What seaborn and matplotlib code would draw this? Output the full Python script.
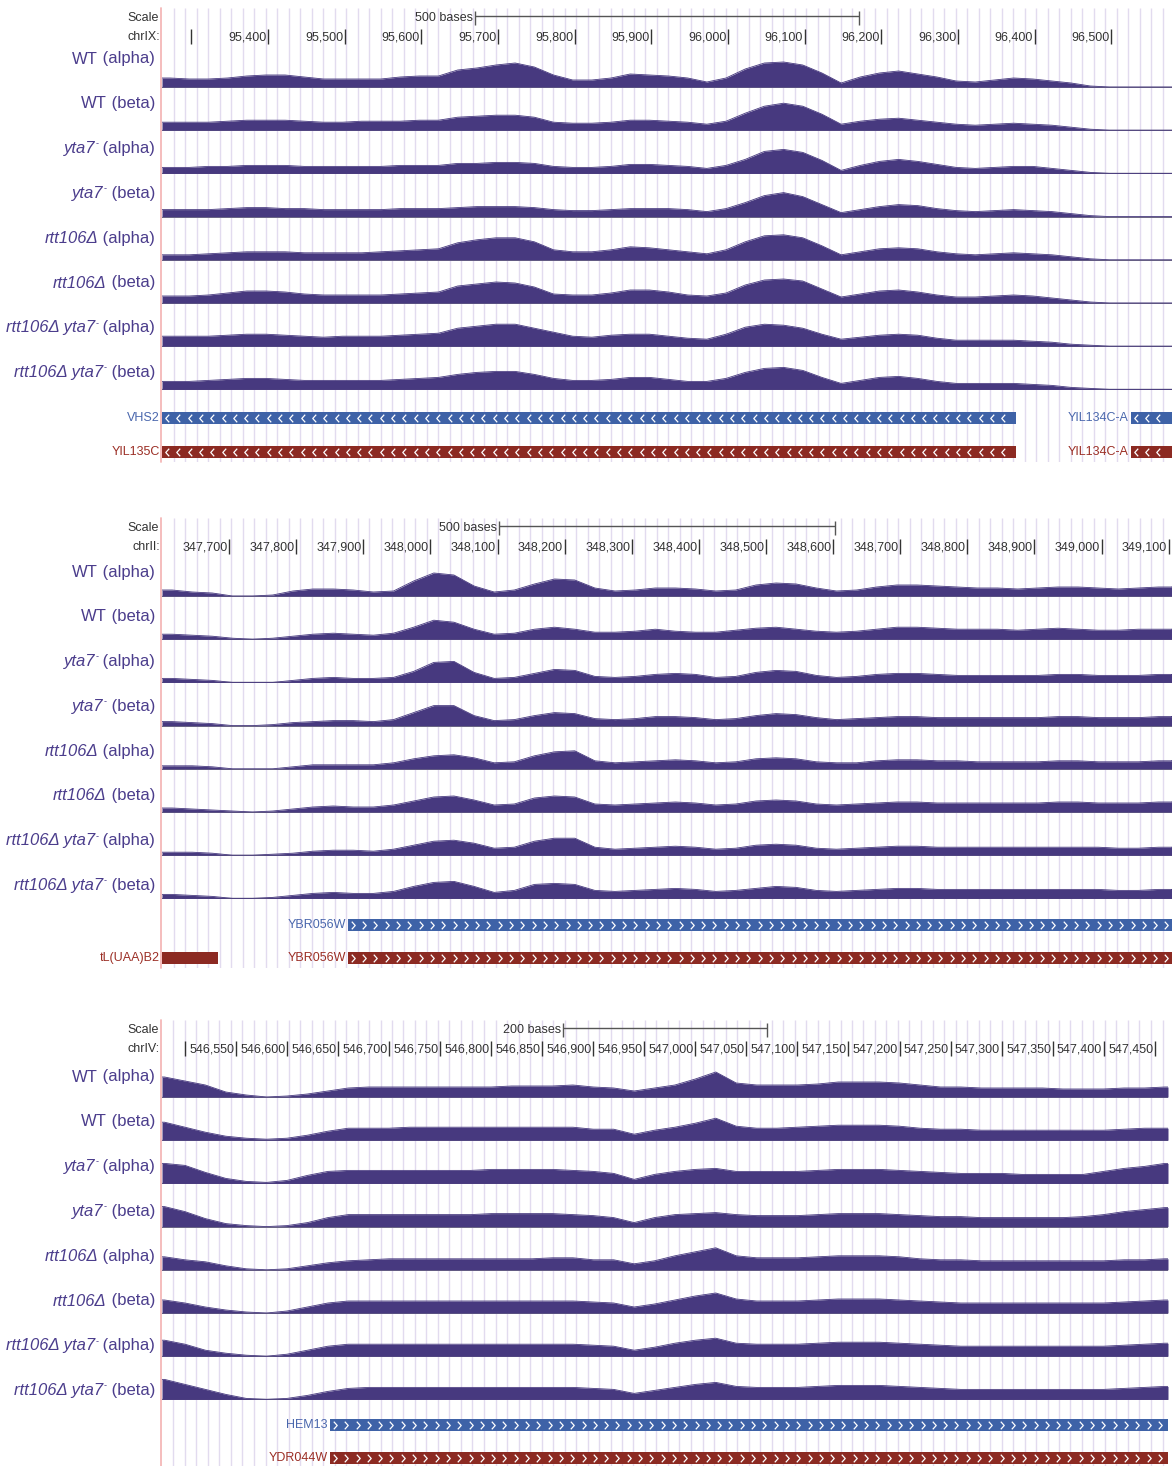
import numpy as np
import pandas as pd
import matplotlib
matplotlib.use("Agg")
import matplotlib.pyplot as plt
from matplotlib.path import Path
from matplotlib.lines import Line2D
import seaborn as sns

sns.set_theme(style="white")
plt.rcParams["font.family"] = ["Liberation Sans", "DejaVu Sans"]

# ---------------------------------------------------------------- data
# track names as (text, style) pieces: "n" upright, "it" italic, "sup" superscript
track_labels = [
    [("WT", "n"), (" (alpha)", "n")],
    [("WT", "n"), (" (beta)", "n")],
    [("yta7", "it"), ("-", "sup"), (" (alpha)", "n")],
    [("yta7", "it"), ("-", "sup"), (" (beta)", "n")],
    [("rtt106\u0394", "it"), (" (alpha)", "n")],
    [("rtt106\u0394", "it"), (" (beta)", "n")],
    [("rtt106\u0394 yta7", "it"), ("-", "sup"), (" (alpha)", "n")],
    [("rtt106\u0394 yta7", "it"), ("-", "sup"), (" (beta)", "n")],
]

# chrIX window, coverage sampled every 25 bp from 95,260
chrIX_view = (95262, 96579)
chrIX_bin_start, chrIX_bin = 95260, 25
chrIX_ticks = list(range(95300, 96501, 100))
chrIX_tick_labels = [""] + [f"{t:,}" for t in chrIX_ticks[1:]]
chrIX_cov = [
    [9,8,8,9,11,12,12,10,8,8,8,8,10,11,11,17,19,22,24,20,12,7,7,9,13,12,11,9,5,9,18,24,25,22,14,4,10,14,16,13,10,6,5,7,9,8,6,4,1,0,0,0,0],
    [8,8,8,9,10,10,10,9,8,8,9,9,9,10,10,13,14,15,15,13,8,7,7,8,10,10,9,8,6,9,17,24,27,24,16,6,9,11,12,10,8,6,5,6,7,6,5,3,1,0,0,0,0],
    [6,6,7,7,8,8,8,7,7,7,7,7,8,8,8,10,10,11,11,10,7,6,6,7,9,9,8,7,5,8,14,22,24,21,13,3,8,12,14,12,9,6,5,6,7,7,5,3,1,0,0,0,0],
    [7,7,7,8,9,9,8,8,7,7,7,7,8,8,8,9,10,10,10,9,7,6,6,7,8,8,8,7,5,8,14,21,24,20,12,4,7,10,12,11,8,6,5,6,7,6,5,3,1,0,0,0,0],
    [5,5,6,7,8,8,8,7,7,7,7,8,9,10,11,17,20,22,22,18,10,8,8,10,13,12,10,8,6,10,18,24,25,22,14,5,8,11,12,11,8,6,5,6,7,6,5,3,1,0,0,0,0],
    [7,7,8,10,12,12,11,9,8,8,8,8,9,10,11,17,19,21,20,16,9,8,8,10,13,13,11,8,7,10,18,23,24,22,14,6,9,12,13,11,8,6,6,7,8,7,5,3,1,0,0,0,0],
    [10,10,10,11,12,12,11,10,9,10,10,10,11,12,13,18,20,22,22,18,14,10,9,11,12,12,10,8,7,12,19,22,21,18,12,7,9,11,12,11,8,6,6,6,6,5,4,2,1,0,0,0,0],
    [8,8,9,10,11,11,10,9,9,9,9,9,10,11,12,15,17,18,18,15,11,9,9,10,12,12,10,8,8,11,17,21,22,19,12,6,9,12,13,11,8,6,6,6,6,5,4,2,1,0,0,0,0],
]
chrIX_genes_blue = [("VHS2", 95100, 96376, True), ("YIL134C-A", 96525, 96700, True)]
chrIX_genes_red = [("YIL135C", 95100, 96376, True), ("YIL134C-A", 96525, 96700, True)]

# chrII window, coverage sampled every 30 bp from 347,600
chrII_view = (347600, 349105)
chrII_bin_start, chrII_bin = 347600, 30
chrII_ticks = list(range(347700, 349101, 100))
chrII_tick_labels = [f"{t:,}" for t in chrII_ticks]
chrII_cov = [
    [6,4,3,0,0,1,5,7,7,6,4,5,15,23,21,10,4,6,12,17,16,8,5,6,8,8,7,5,6,11,13,12,8,5,6,9,11,11,10,9,8,8,7,8,9,9,8,7,8,9,9],
    [5,4,3,1,0,1,3,5,6,5,4,6,12,19,17,10,5,6,10,12,10,7,7,8,10,8,7,7,9,11,12,10,8,7,8,10,12,12,11,10,10,10,9,10,11,10,9,9,10,10,10],
    [4,3,2,0,0,0,2,4,5,4,4,5,11,20,21,10,4,5,9,13,12,6,5,6,8,9,8,5,6,10,12,11,7,5,6,8,9,9,8,7,7,7,7,7,8,8,7,7,7,8,8],
    [4,3,2,0,0,1,3,4,5,5,4,6,13,20,20,10,5,6,10,13,12,7,6,7,9,9,8,6,7,10,12,11,8,6,7,8,9,9,8,8,8,8,8,8,9,9,8,8,8,9,9],
    [3,3,2,0,0,0,2,4,4,4,4,6,10,13,14,11,6,7,13,17,18,8,6,7,8,9,8,6,7,10,11,10,7,6,6,8,9,9,8,8,7,7,7,7,8,8,7,7,7,8,8],
    [4,3,2,1,0,1,3,5,6,5,5,7,11,15,16,12,7,8,14,16,15,8,7,8,9,10,9,7,8,11,12,11,8,7,8,9,10,10,9,9,9,9,9,9,10,10,9,9,9,10,10],
    [3,3,2,0,0,1,2,4,5,5,4,6,10,14,15,12,7,8,14,17,17,8,6,7,8,9,8,6,7,10,11,10,7,6,7,8,9,9,8,8,8,8,8,8,8,8,8,7,7,8,8],
    [4,3,2,0,0,1,3,5,6,5,5,7,12,16,17,12,6,8,14,15,14,8,7,8,9,10,9,7,8,10,12,11,8,7,8,9,10,10,9,9,9,9,9,9,9,9,9,8,8,9,9],
]
chrII_genes_blue = [("YBR056W", 347877, 349500, True)]
chrII_genes_red = [("tL(UAA)B2", 347500, 347683, False), ("YBR056W", 347877, 349500, True)]

# chrIV window, coverage sampled every 20 bp from 546,470
chrIV_view = (546477.5, 547463)
chrIV_bin_start, chrIV_bin = 546470, 20
chrIV_ticks = list(range(546500, 547451, 50))
chrIV_tick_labels = [""] + [f"{t:,}" for t in chrIV_ticks[1:]]
chrIV_cov = [
    [20,16,12,5,2,0,1,3,6,9,10,10,10,10,10,10,10,11,11,11,12,10,9,6,9,12,18,25,14,12,12,12,13,15,15,15,14,12,10,10,9,9,9,9,8,8,8,9,9,10],
    [18,13,8,4,2,1,2,5,9,12,12,12,13,13,13,13,13,13,13,13,13,11,11,6,10,13,17,22,14,12,12,13,14,15,15,15,14,12,11,11,10,10,10,10,10,10,10,11,12,12],
    [20,18,11,5,2,1,3,8,12,13,13,13,13,13,13,13,14,14,14,14,13,12,10,4,9,12,14,15,12,12,12,12,13,14,14,14,13,12,11,10,10,10,9,9,9,9,12,15,17,20],
    [20,15,8,3,1,0,1,4,9,12,12,12,12,12,12,12,13,13,13,13,12,11,9,4,9,12,13,14,12,11,11,11,12,13,13,13,12,11,10,10,9,9,9,9,9,10,12,15,17,19],
    [13,10,8,4,1,0,1,4,7,9,10,11,11,11,11,11,11,11,11,12,12,10,10,6,9,14,18,22,14,12,12,12,13,14,14,14,13,11,10,10,9,9,9,9,9,9,9,10,10,11],
    [13,10,6,3,1,0,2,6,10,12,12,12,12,12,12,12,12,12,12,12,12,11,10,6,9,13,17,20,14,12,12,12,13,14,14,14,13,12,11,10,10,10,10,10,10,10,10,11,12,13],
    [16,12,6,3,1,0,2,6,10,12,12,12,12,12,12,12,12,12,12,12,12,11,10,6,9,13,16,18,13,12,12,12,13,14,14,14,13,12,11,10,10,10,10,10,10,10,10,11,12,13],
    [20,15,10,5,1,0,1,4,8,11,12,12,12,12,12,12,12,12,12,12,12,11,10,6,9,12,15,17,13,12,12,12,13,14,14,14,13,12,11,10,10,10,10,10,10,10,10,11,12,13],
]
chrIV_genes_blue = [("HEM13", 546642, 547600, True)]
chrIV_genes_red = [("YDR044W", 546642, 547600, True)]

# ---------------------------------------------------------------- style
SIGNAL = "#47397f"
LABEL = "#4b3d8c"
GENE_BLUE, GENE_BLUE_TXT = "#3e62a7", "#4a67ad"
GENE_RED, GENE_RED_TXT = "#8c2a22", "#9b2e25"
GRID = "#e2dbef"
EDGE = "#f4b8b8"
INK = "#333333"

W, H = 1172, 1466
fig = plt.figure(figsize=(W / 100, H / 100), dpi=100)
fig.patch.set_facecolor("white")
renderer = fig.canvas.get_renderer()
LEFT = 162


def box(x0, y0, x1, y1):
    ax = fig.add_axes([x0 / W, 1 - y1 / H, (x1 - x0) / W, (y1 - y0) / H])
    ax.set_axis_off()
    ax.patch.set_alpha(0)
    return ax


def rich_label(x_px, y_px, pieces, color, size=12):
    """Right-aligned label built from upright / italic / superscript pieces."""
    x = x_px
    base = y_px + 5.5
    for txt, kind in reversed(pieces):
        if kind == "sup":
            t = fig.text(x / W, 1 - (base - 6.5) / H, txt, ha="right", va="baseline",
                         fontsize=size * 0.55, color=color)
        else:
            t = fig.text(x / W, 1 - base / H, txt, ha="right", va="baseline", fontsize=size,
                         color=color, style="italic" if kind == "it" else "normal")
        x -= t.get_window_extent(renderer).width


panels = [
    dict(chrom="chrIX:", view=chrIX_view, b0=chrIX_bin_start, bw=chrIX_bin, cov=chrIX_cov,
         ticks=chrIX_ticks, tlabels=chrIX_tick_labels, scale=500, strand="-",
         blue=chrIX_genes_blue, red=chrIX_genes_red,
         top=8, bottom=462, right=1172, lab0=58, base0=87, gene_y=(418, 452)),
    dict(chrom="chrII:", view=chrII_view, b0=chrII_bin_start, bw=chrII_bin, cov=chrII_cov,
         ticks=chrII_ticks, tlabels=chrII_tick_labels, scale=500, strand="+",
         blue=chrII_genes_blue, red=chrII_genes_red,
         top=518, bottom=968, right=1172, lab0=571, base0=596, gene_y=(925, 958)),
    dict(chrom="chrIV:", view=chrIV_view, b0=chrIV_bin_start, bw=chrIV_bin, cov=chrIV_cov,
         ticks=chrIV_ticks, tlabels=chrIV_tick_labels, scale=200, strand="+",
         blue=chrIV_genes_blue, red=chrIV_genes_red,
         top=1020, bottom=1466, right=1168, lab0=1076, base0=1097, gene_y=(1425, 1458)),
]

LAB_STEP, BASE_STEP = 44.8, 43.2
chev_left = Path([(0.45, 1), (-0.45, 0), (0.45, -1)], [Path.MOVETO, Path.LINETO, Path.LINETO])
chev_right = Path([(-0.45, 1), (0.45, 0), (-0.45, -1)], [Path.MOVETO, Path.LINETO, Path.LINETO])

for p in panels:
    x0, x1 = p["view"]
    right = p["right"]
    ppb = (right - LEFT) / (x1 - x0)  # pixels per base
    top, bottom = p["top"], p["bottom"]

    # guide lines behind everything
    bg = box(LEFT, top, right, bottom)
    bg.set_xlim(x0, x1)
    bg.set_ylim(0, 1)
    guide_px = np.arange(LEFT + 11.5, right, 11.5)
    bg.vlines(x0 + (guide_px - LEFT) / ppb, 0, 1, color=GRID, lw=1.0)
    fig.add_artist(Line2D([161 / W, 161 / W], [1 - top / H, 1 - bottom / H],
                          color=EDGE, lw=1.3))

    # ruler
    hdr = box(LEFT, top, right, top + 40)
    hdr.set_xlim(x0, x1)
    hdr.set_ylim(top + 40, top)
    hdr.vlines(p["ticks"], top + 21, top + 36, color=INK, lw=1.0)
    for t, lab in zip(p["ticks"], p["tlabels"]):
        if lab:
            hdr.text(t - 1.5 / ppb, top + 29, lab, ha="right", va="center",
                     fontsize=9, color=INK)
    c = (x0 + x1) / 2
    s0, s1 = c - p["scale"] / 2, c + p["scale"] / 2
    hdr.hlines(top + 8, s0, s1, color="#555555", lw=1.0)
    hdr.vlines([s0, s1], top + 3, top + 17, color="#555555", lw=1.0)
    hdr.text(s0 - 2 / ppb, top + 10, f"{p['scale']} bases", ha="right", va="center",
             fontsize=9, color=INK)
    fig.text(159 / W, 1 - (top + 10) / H, "Scale", ha="right", va="center", fontsize=9, color=INK)
    fig.text(160 / W, 1 - (top + 29) / H, p["chrom"], ha="right", va="center", fontsize=9, color=INK)

    # coverage tracks
    for i, (lab, vals) in enumerate(zip(track_labels, p["cov"])):
        base = p["base0"] + i * BASE_STEP
        ax = box(LEFT, base - 30, right, base + 1)
        vals = np.asarray(vals, dtype=float)
        pos = p["b0"] + p["bw"] * (np.arange(len(vals)) + 0.5)
        xs = np.concatenate([[x0], pos, [x1]])
        ys = np.concatenate([[vals[0]], vals, [vals[-1]]])
        ax.axhline(0, color="#6f6a86", lw=1.0, zorder=1)
        ax.fill_between(xs, 0, ys, color=SIGNAL, lw=0, zorder=2)
        df = pd.DataFrame({"pos": xs, "cov": ys})
        sns.lineplot(data=df, x="pos", y="cov", estimator=None, sort=False,
                     color=SIGNAL, lw=0.6, ax=ax, legend=False, zorder=3)
        ax.set_axis_off()
        ax.set_xlim(x0, x1)
        ax.set_ylim(-1, 30)
        rich_label(155, p["lab0"] + i * LAB_STEP, lab, LABEL)

    # gene annotations
    chev = chev_left if p["strand"] == "-" else chev_right
    for genes, yc, col, tcol in [(p["blue"], p["gene_y"][0], GENE_BLUE, GENE_BLUE_TXT),
                                 (p["red"], p["gene_y"][1], GENE_RED, GENE_RED_TXT)]:
        ga = box(LEFT, yc - 8, right, yc + 8)
        for name, gs, ge, arrows in genes:
            ga.barh(0, ge - gs, left=gs, height=1.55, color=col, lw=0)
            if arrows:
                lo, hi = max(gs, x0), min(ge, x1)
                cpx = np.arange((lo - x0) * ppb + LEFT + 5, (hi - x0) * ppb + LEFT - 3, 11.3)
                ga.plot(x0 + (cpx - LEFT) / ppb, np.zeros_like(cpx), ls="none", marker=chev,
                        ms=5.5, mfc="none", mec="white", mew=0.9)
            lx = max((gs - x0) * ppb + LEFT, LEFT) - 2
            fig.text(lx / W, 1 - yc / H, name, ha="right", va="center", fontsize=9, color=tcol)
        ga.set_axis_off()
        ga.set_xlim(x0, x1)
        ga.set_ylim(-1, 1)

fig.savefig("out.png", dpi=100, facecolor="white")
